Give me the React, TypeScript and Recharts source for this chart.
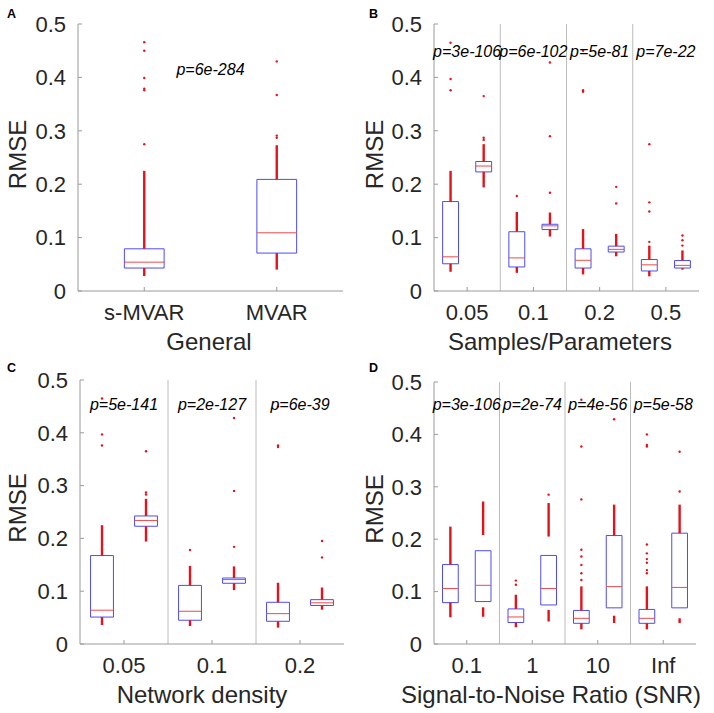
import React from 'react';
import {
  ComposedChart,
  XAxis,
  YAxis,
  Scatter,
  ReferenceArea,
  ReferenceLine,
  ReferenceDot,
  Label,
} from 'recharts';

const FONT = '"Liberation Sans", Arial, Helvetica, sans-serif';
const FRAME = '#9a9a9a';
const TEXT = '#262626';
const BLUE = '#4c4cf2';
const MED_RED = '#ee4a4a';
const RED = '#e4121b';
const DIVIDER = '#bcbcbc';

const yTicks = [0, 0.1, 0.2, 0.3, 0.4, 0.5];

// ---------- Panel A: General ----------
const aCategories = ['s-MVAR', 'MVAR'];
const aPValues = ['p=6e-284'];
const aQ1 = [0.043, 0.071];
const aMedian = [0.054, 0.109];
const aQ3 = [0.079, 0.209];
const aDenseUpper = [[0.079, 0.225], [0.209, 0.273]];
const aDenseLower = [[0.028, 0.043], [0.04, 0.071]];
const aOutliers = [
  [0.466, 0.45, 0.399, 0.379, 0.376, 0.275],
  [0.287, 0.291, 0.367, 0.43],
];

// ---------- Panel B: Samples/Parameters ----------
const bCategories = ['0.05', '0.1', '0.2', '0.5'];
const bPValues = ['p=3e-106', 'p=6e-102', 'p=5e-81', 'p=7e-22'];
const bQ1 = [0.051, 0.223, 0.045, 0.115, 0.043, 0.073, 0.0375, 0.043];
const bMedian = [0.064, 0.234, 0.062, 0.122, 0.0575, 0.078, 0.049, 0.048];
const bQ3 = [0.1675, 0.2425, 0.111, 0.125, 0.079, 0.084, 0.059, 0.057];
const bDenseUpper = [
  [0.1675, 0.225], [0.2425, 0.275], [0.111, 0.148], [0.125, 0.147],
  [0.079, 0.116], [0.084, 0.107], [0.059, 0.085], [0.057, 0.076],
];
const bDenseLower = [
  [0.036, 0.051], [0.194, 0.223], [0.034, 0.045], [0.102, 0.115],
  [0.031, 0.043], [0.065, 0.073], [0.0275, 0.0375], [0.04, 0.043],
];
const bOutliers = [
  [0.465, 0.397, 0.376],
  [0.283, 0.287, 0.365],
  [0.178],
  [0.184, 0.29, 0.428],
  [0.376, 0.373, 0.45],
  [0.164, 0.195],
  [0.092, 0.149, 0.166, 0.275],
  [0.085, 0.095, 0.104],
];

// ---------- Panel C: Network density ----------
const cCategories = ['0.05', '0.1', '0.2'];
const cPValues = ['p=5e-141', 'p=2e-127', 'p=6e-39'];
const cQ1 = [0.051, 0.223, 0.045, 0.115, 0.043, 0.073];
const cMedian = [0.064, 0.234, 0.062, 0.122, 0.0575, 0.078];
const cQ3 = [0.1675, 0.2425, 0.111, 0.125, 0.079, 0.084];
const cDenseUpper = [
  [0.1675, 0.225], [0.2425, 0.275], [0.111, 0.148], [0.125, 0.147],
  [0.079, 0.116], [0.084, 0.107],
];
const cDenseLower = [
  [0.036, 0.051], [0.194, 0.223], [0.034, 0.045], [0.102, 0.115],
  [0.031, 0.043], [0.065, 0.073],
];
const cOutliers = [
  [0.465, 0.397, 0.376],
  [0.283, 0.287, 0.365],
  [0.178],
  [0.184, 0.29, 0.428],
  [0.376, 0.373, 0.45],
  [0.164, 0.195],
];

// ---------- Panel D: Signal-to-Noise Ratio ----------
const dCategories = ['0.1', '1', '10', 'Inf'];
const dPValues = ['p=3e-106', 'p=2e-74', 'p=4e-56', 'p=5e-58'];
const dQ1 = [0.079, 0.081, 0.041, 0.0745, 0.0395, 0.069, 0.0395, 0.069];
const dMedian = [0.106, 0.112, 0.0516, 0.106, 0.049, 0.1095, 0.049, 0.108];
const dQ3 = [0.1516, 0.178, 0.067, 0.169, 0.064, 0.207, 0.066, 0.2115];
const dDenseUpper = [
  [0.1516, 0.224], [0.208, 0.272], [0.067, 0.094], [0.205, 0.269],
  [0.064, 0.11], [0.207, 0.266], [0.066, 0.11], [0.2115, 0.266],
];
const dDenseLower = [
  [0.051, 0.079], [0.052, 0.07], [0.032, 0.041], [0.043, 0.065],
  [0.028, 0.0395], [0.04, 0.054], [0.028, 0.0395], [0.04, 0.049],
];
const dOutliers = [
  [],
  [],
  [0.113, 0.121],
  [0.285],
  [0.122, 0.135, 0.151, 0.167, 0.18, 0.276, 0.377, 0.466],
  [0.429],
  [0.135, 0.141, 0.155, 0.162, 0.173, 0.19, 0.377, 0.38, 0.4],
  [0.291, 0.367],
];

type PanelProps = {
  w: number;
  h: number;
  margin: { top: number; right: number; bottom: number; left: number };
  yAxisWidth: number;
  xAxisHeight: number;
  nSlots: number;
  boxHalf: number;
  q1: number[];
  med: number[];
  q3: number[];
  denseUp: number[][];
  denseLo: number[][];
  outliers: number[][];
  tickPos: number[];
  tickLabels: string[];
  pPos: number[];
  pLabels: string[];
  pY: number;
  dividers: number[];
  xTitle: string;
  xTitleCx: number;
  yTitleDy: number;
};

function BoxPanel(p: PanelProps) {
  const scatterData = p.outliers.flatMap((list, i) =>
    list.map((v) => ({ x: i + 0.5, y: v }))
  );
  const tickStyle = { fill: TEXT, fontSize: 22, fontFamily: FONT };
  return (
    <ComposedChart width={p.w} height={p.h} margin={p.margin}>
      <XAxis
        xAxisId={0}
        type="number"
        dataKey="x"
        domain={[0, p.nSlots]}
        ticks={p.tickPos}
        interval={0}
        allowDataOverflow
        tickFormatter={(v: number) => p.tickLabels[p.tickPos.indexOf(v)] ?? ''}
        height={p.xAxisHeight}
        tickSize={-4}
        tickMargin={17}
        axisLine={{ stroke: FRAME }}
        tickLine={{ stroke: FRAME }}
        tick={tickStyle}
      >
        <Label
          content={(props: any) => {
            const vb = props.viewBox || {};
            return (
              <text
                x={p.xTitleCx}
                y={(vb.y ?? 0) + 58.5}
                textAnchor="middle"
                fill={TEXT}
                fontSize={24}
                fontFamily={FONT}
              >
                {p.xTitle}
              </text>
            );
          }}
        />
      </XAxis>
      <XAxis
        xAxisId="top"
        orientation="top"
        type="number"
        dataKey="x"
        domain={[0, p.nSlots]}
        ticks={p.tickPos}
        interval={0}
        allowDataOverflow
        height={0}
        tickSize={-4}
        tick={false}
        axisLine={{ stroke: FRAME }}
        tickLine={{ stroke: FRAME }}
      />
      <YAxis
        yAxisId={0}
        type="number"
        dataKey="y"
        domain={[0, 0.5]}
        ticks={yTicks}
        interval={0}
        allowDataOverflow
        width={p.yAxisWidth}
        tickSize={-4}
        tickMargin={16}
        tickFormatter={(v: number) => String(v)}
        axisLine={{ stroke: FRAME }}
        tickLine={{ stroke: FRAME }}
        tick={tickStyle}
      >
        <Label
          content={(props: any) => {
            const vb = props.viewBox || {};
            const cx = 17;
            const cy = (vb.y ?? 0) + (vb.height ?? 0) / 2 + p.yTitleDy;
            return (
              <text
                x={cx}
                y={cy}
                transform={`rotate(-90, ${cx}, ${cy})`}
                textAnchor="middle"
                dominantBaseline="central"
                fill={TEXT}
                fontSize={24}
                fontFamily={FONT}
              >
                RMSE
              </text>
            );
          }}
        />
      </YAxis>
      <YAxis
        yAxisId="right"
        orientation="right"
        type="number"
        dataKey="y"
        domain={[0, 0.5]}
        ticks={yTicks}
        interval={0}
        allowDataOverflow
        width={0}
        tickSize={-4}
        tick={false}
        axisLine={{ stroke: FRAME }}
        tickLine={{ stroke: FRAME }}
      />
      {p.dividers.map((x) => (
        <ReferenceLine key={`div-${x}`} x={x} stroke={DIVIDER} strokeWidth={1} />
      ))}
      {p.denseUp.map((r, i) => (
        <ReferenceLine
          key={`du-${i}`}
          segment={[{ x: i + 0.5, y: r[0] }, { x: i + 0.5, y: r[1] }]}
          stroke={RED}
          strokeWidth={2.4}
        />
      ))}
      {p.denseLo.map((r, i) => (
        <ReferenceLine
          key={`dl-${i}`}
          segment={[{ x: i + 0.5, y: r[0] }, { x: i + 0.5, y: r[1] }]}
          stroke={RED}
          strokeWidth={2.4}
        />
      ))}
      {p.q1.map((v, i) => (
        <ReferenceArea
          key={`box-${i}`}
          x1={i + 0.5 - p.boxHalf}
          x2={i + 0.5 + p.boxHalf}
          y1={v}
          y2={p.q3[i]}
          fill="#ffffff"
          fillOpacity={0}
          stroke={BLUE}
          strokeWidth={1}
        />
      ))}
      {p.med.map((v, i) => (
        <ReferenceLine
          key={`med-${i}`}
          segment={[{ x: i + 0.5 - p.boxHalf, y: v }, { x: i + 0.5 + p.boxHalf, y: v }]}
          stroke={MED_RED}
          strokeWidth={1}
        />
      ))}
      <Scatter
        data={scatterData}
        isAnimationActive={false}
        shape={(sp: any) => <circle cx={sp.cx} cy={sp.cy} r={1.2} fill={RED} />}
      />
      {p.pLabels.map((lab, i) => (
        <ReferenceDot
          key={`p-${i}`}
          x={p.pPos[i]}
          y={p.pY}
          r={0}
          fill="none"
          stroke="none"
          label={(lp: any) => {
            const vb = lp.viewBox || {};
            return (
              <text
                x={(vb.x ?? 0) + (vb.width ?? 0) / 2}
                y={(vb.y ?? 0) + (vb.height ?? 0) / 2}
                textAnchor="middle"
                fill="#000"
                fontSize={16}
                fontStyle="italic"
                fontFamily={FONT}
              >
                {lab}
              </text>
            );
          }}
        />
      ))}
    </ComposedChart>
  );
}

const groupCenters = (n: number) => Array.from({ length: n }, (_, g) => g * 2 + 1);
const groupDividers = (n: number) => Array.from({ length: n - 1 }, (_, g) => (g + 1) * 2);

export default function App() {
  return (
    <div
      style={{
        position: 'absolute',
        left: 0,
        top: 0,
        width: 714,
        height: 713,
        background: '#ffffff',
        overflow: 'hidden',
      }}
    >
      <div style={{ position: 'absolute', left: 0, top: 0 }}>
        <BoxPanel
          w={357}
          h={357}
          margin={{ top: 24, right: 14, bottom: 0, left: 0 }}
          yAxisWidth={78}
          xAxisHeight={66}
          nSlots={2}
          boxHalf={0.15}
          q1={aQ1}
          med={aMedian}
          q3={aQ3}
          denseUp={aDenseUpper}
          denseLo={aDenseLower}
          outliers={aOutliers}
          tickPos={[0.5, 1.5]}
          tickLabels={aCategories}
          pPos={[1]}
          pLabels={aPValues}
          pY={0.405}
          dividers={[]}
          xTitle="General"
          xTitleCx={209}
          yTitleDy={-3}
        />
      </div>
      <div style={{ position: 'absolute', left: 357, top: 0 }}>
        <BoxPanel
          w={357}
          h={357}
          margin={{ top: 24, right: 15, bottom: 0, left: 0 }}
          yAxisWidth={77}
          xAxisHeight={66}
          nSlots={8}
          boxHalf={0.24}
          q1={bQ1}
          med={bMedian}
          q3={bQ3}
          denseUp={bDenseUpper}
          denseLo={bDenseLower}
          outliers={bOutliers}
          tickPos={groupCenters(4)}
          tickLabels={bCategories}
          pPos={groupCenters(4)}
          pLabels={bPValues}
          pY={0.438}
          dividers={groupDividers(4)}
          xTitle="Samples/Parameters"
          xTitleCx={203}
          yTitleDy={-3}
        />
      </div>
      <div style={{ position: 'absolute', left: 0, top: 357 }}>
        <BoxPanel
          w={357}
          h={356}
          margin={{ top: 23, right: 13, bottom: 0, left: 0 }}
          yAxisWidth={80}
          xAxisHeight={69}
          nSlots={6}
          boxHalf={0.26}
          q1={cQ1}
          med={cMedian}
          q3={cQ3}
          denseUp={cDenseUpper}
          denseLo={cDenseLower}
          outliers={cOutliers}
          tickPos={groupCenters(3)}
          tickLabels={cCategories}
          pPos={groupCenters(3)}
          pLabels={cPValues}
          pY={0.443}
          dividers={groupDividers(3)}
          xTitle="Network density"
          xTitleCx={202}
          yTitleDy={-4}
        />
      </div>
      <div style={{ position: 'absolute', left: 357, top: 357 }}>
        <BoxPanel
          w={357}
          h={356}
          margin={{ top: 25, right: 18, bottom: 0, left: 0 }}
          yAxisWidth={77}
          xAxisHeight={69}
          nSlots={8}
          boxHalf={0.24}
          q1={dQ1}
          med={dMedian}
          q3={dQ3}
          denseUp={dDenseUpper}
          denseLo={dDenseLower}
          outliers={dOutliers}
          tickPos={groupCenters(4)}
          tickLabels={dCategories}
          pPos={groupCenters(4)}
          pLabels={dPValues}
          pY={0.4466}
          dividers={groupDividers(4)}
          xTitle="Signal-to-Noise Ratio (SNR)"
          xTitleCx={194}
          yTitleDy={-4}
        />
      </div>
      <svg
        width={714}
        height={713}
        style={{ position: 'absolute', left: 0, top: 0, pointerEvents: 'none' }}
      >
        <g fontFamily={FONT} fontWeight="bold" fontSize={12.5} fill="#000">
          <text x={7} y={18}>A</text>
          <text x={369} y={18}>B</text>
          <text x={7} y={372}>C</text>
          <text x={369} y={372}>D</text>
        </g>
      </svg>
    </div>
  );
}
